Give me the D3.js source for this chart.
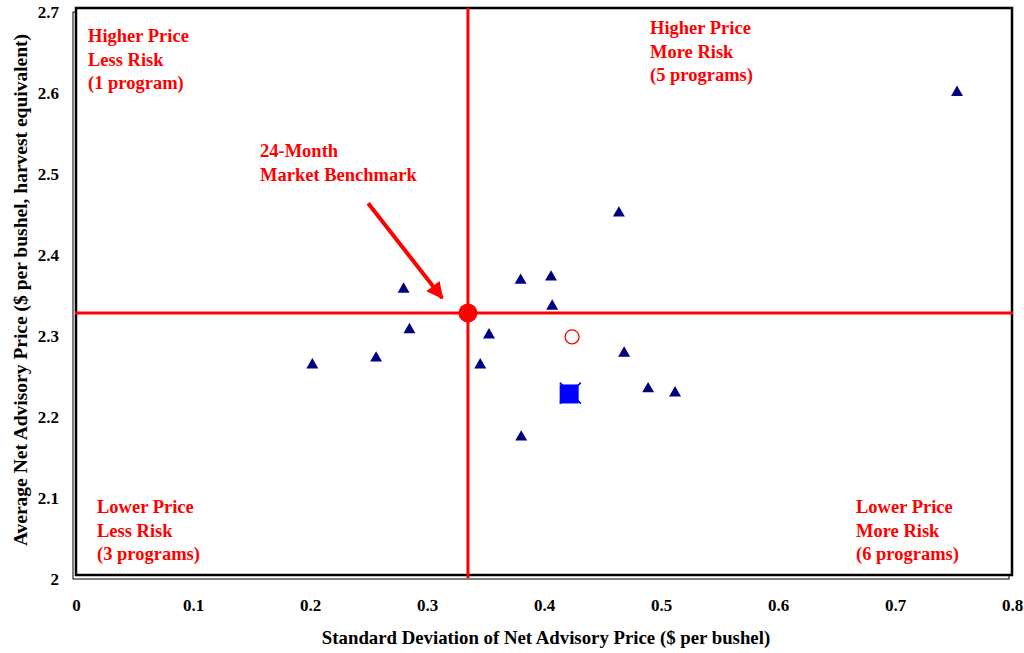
<!DOCTYPE html>
<html><head><meta charset="utf-8">
<script src="https://cdn.jsdelivr.net/npm/d3@7"></script>
<style>
html,body{margin:0;padding:0;background:#fff;}
svg text{font-family:"Liberation Serif","Times New Roman",serif;font-weight:bold;}
</style></head>
<body>
<svg id="chart" width="1024" height="653"></svg>
<script>
// Advisory programs: standard deviation (x) vs average net advisory price (y)
const programX = [0.753, 0.464, 0.280, 0.380, 0.406, 0.407, 0.285, 0.353, 0.202, 0.2565, 0.3455, 0.4685, 0.489, 0.512, 0.3805];
const programY = [2.597, 2.448, 2.354, 2.365, 2.369, 2.333, 2.304, 2.2975, 2.2605, 2.269, 2.2605, 2.275, 2.231, 2.226, 2.1715];
const benchmark = [0.335, 2.3235];          // 24-month market benchmark
const openCircle = [0.424, 2.294];
const squarePoint = [0.4215, 2.2235];
const crossPoint = [0.4225, 2.2245];
const xTicks = [0, 0.1, 0.2, 0.3, 0.4, 0.5, 0.6, 0.7, 0.8];
const yTicks = [2, 2.1, 2.2, 2.3, 2.4, 2.5, 2.6, 2.7];
const arrowFrom = [0.2497, 2.459];
const arrowTo = [0.313, 2.342];
const quadrantLabels = [
  {lines:["Higher Price","Less Risk","(1 program)"], pos:"tl"},
  {lines:["Higher Price","More Risk","(5 programs)"], pos:"tr"},
  {lines:["Lower Price","Less Risk","(3 programs)"], pos:"bl"},
  {lines:["Lower Price","More Risk","(6 programs)"], pos:"br"}
];
const benchLabel = ["24-Month","Market Benchmark"];

const svg = d3.select("#chart");
const L = 76, R = 1012, T = 8, B = 575;
const x = d3.scaleLinear().domain([0, 0.8]).range([L, R]);
const y = d3.scaleLinear().domain([2, 2.7]).range([B, T]);
const red = "#ff0000", navy = "#000080", blue = "#0000ff";

// shadow frame + main frame
svg.append("rect").attr("x", L-3).attr("y", T+4).attr("width", R-L).attr("height", B-T)
  .attr("fill", "none").attr("stroke", "#000").attr("stroke-width", 1);
svg.append("rect").attr("x", L).attr("y", T).attr("width", R-L).attr("height", B-T)
  .attr("fill", "#fff").attr("stroke", "#000").attr("stroke-width", 2.5);

// axes tick labels
const xAxis = d3.axisBottom(x).tickValues(xTicks).tickSize(0).tickPadding(0)
  .tickFormat(d => d === 0 ? "0" : d3.format(".1f")(d));
const gx = svg.append("g").attr("transform", `translate(0,${B+24})`).call(xAxis);
gx.select(".domain").remove();
gx.selectAll("text").attr("font-size", 17).attr("fill", "#000").attr("dy", "0.71em")
  .style("font-family", '"Liberation Serif",serif').style("font-weight", "bold");

const yAxis = d3.axisLeft(y).tickValues(yTicks).tickSize(0).tickPadding(0)
  .tickFormat(d => d === 2 ? "2" : d3.format(".1f")(d));
const gy = svg.append("g").attr("transform", `translate(${L-17},4)`).call(yAxis);
gy.select(".domain").remove();
gy.selectAll("text").attr("font-size", 17).attr("fill", "#000")
  .style("font-family", '"Liberation Serif",serif').style("font-weight", "bold");

// axis titles
svg.append("text").attr("x", 546).attr("y", 644).attr("text-anchor", "middle")
  .attr("font-size", 18.8).attr("fill", "#000")
  .text("Standard Deviation of Net Advisory Price ($ per bushel)");
svg.append("text").attr("transform", `translate(27,290) rotate(-90)`)
  .attr("text-anchor", "middle").attr("font-size", 19.5).attr("fill", "#000")
  .text("Average Net Advisory Price ($ per bushel, harvest equivalent)");

// benchmark cross lines
svg.append("line").attr("x1", x(benchmark[0])).attr("x2", x(benchmark[0]))
  .attr("y1", y(2.7)).attr("y2", y(2) + 3).attr("stroke", red).attr("stroke-width", 3);
svg.append("line").attr("x1", x(0) - 1).attr("x2", x(0.8) + 1)
  .attr("y1", y(benchmark[1])).attr("y2", y(benchmark[1])).attr("stroke", red).attr("stroke-width", 3);

// quadrant labels
const lh = 23.5, fs = 18.5;
quadrantLabels.forEach(q => {
  let px, py;
  if (q.pos === "tl") { px = 88; py = 42; }
  if (q.pos === "tr") { px = 650; py = 34; }
  if (q.pos === "bl") { px = 97; py = 513; }
  if (q.pos === "br") { px = 856; py = 513; }
  const t = svg.append("text").attr("x", px).attr("y", py).attr("fill", red).attr("font-size", fs);
  q.lines.forEach((s, i) => t.append("tspan").attr("x", px).attr("dy", i === 0 ? 0 : lh).text(s));
});
const bt = svg.append("text").attr("x", 260).attr("y", 157).attr("fill", red).attr("font-size", fs);
benchLabel.forEach((s, i) => bt.append("tspan").attr("x", 260).attr("dy", i === 0 ? 0 : lh).text(s));

// arrow
svg.append("defs").append("marker").attr("id", "ah").attr("viewBox", "0 0 10 10")
  .attr("refX", 9).attr("refY", 5).attr("markerWidth", 4.2).attr("markerHeight", 4.2)
  .attr("orient", "auto").attr("markerUnits", "strokeWidth")
  .append("path").attr("d", "M0,0 L10,5 L0,10 Z").attr("fill", red);
svg.append("line").attr("x1", x(arrowFrom[0])).attr("y1", y(arrowFrom[1]))
  .attr("x2", x(arrowTo[0])).attr("y2", y(arrowTo[1]))
  .attr("stroke", red).attr("stroke-width", 4).attr("marker-end", "url(#ah)");

// triangles
const tri = d3.symbol().type(d3.symbolTriangle).size(62);
svg.append("g").selectAll("path").data(programX.map((v, i) => [v, programY[i]])).join("path")
  .attr("d", tri).attr("transform", d => `translate(${x(d[0])},${y(d[1]) + 1})`)
  .attr("fill", navy);

// open circle
svg.append("circle").attr("cx", x(openCircle[0])).attr("cy", y(openCircle[1])).attr("r", 7)
  .attr("fill", "none").attr("stroke", red).attr("stroke-width", 1.3);

// cross + square
const cx = x(crossPoint[0]), cy = y(crossPoint[1]), cs = 10.5;
svg.append("path").attr("d", `M${cx-cs},${cy-cs}L${cx+cs},${cy+cs}M${cx-cs},${cy+cs}L${cx+cs},${cy-cs}`)
  .attr("stroke", blue).attr("stroke-width", 1.5);
svg.append("rect").attr("x", x(squarePoint[0]) - 9.5).attr("y", y(squarePoint[1]) - 9.5)
  .attr("width", 19).attr("height", 19).attr("fill", blue);

// benchmark dot
svg.append("circle").attr("cx", x(benchmark[0])).attr("cy", y(benchmark[1])).attr("r", 9.5).attr("fill", red);
</script>
</body></html>
